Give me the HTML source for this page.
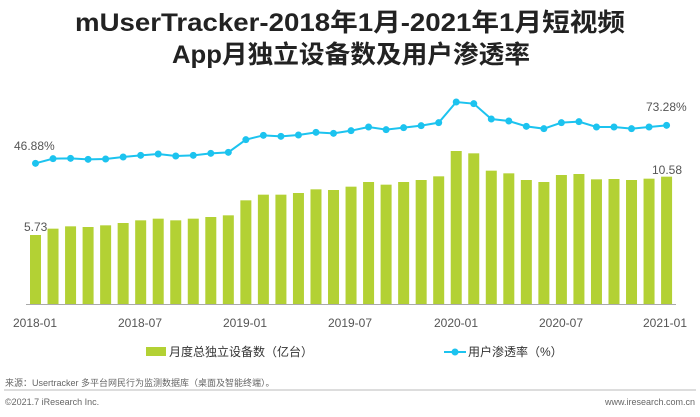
<!DOCTYPE html>
<html><head><meta charset="utf-8"><style>
body{margin:0;width:700px;height:412px;background:#fff;overflow:hidden;font-family:"Liberation Sans","Noto Sans CJK SC",sans-serif}
</style></head><body>
<svg width="700" height="412" xmlns="http://www.w3.org/2000/svg" font-family="Liberation Sans, Noto Sans CJK SC, sans-serif">
<text x="75" y="31" font-size="25" font-weight="bold" fill="#222" textLength="550" lengthAdjust="spacingAndGlyphs">mUserTracker-2018年1月-2021年1月短视频</text>
<text x="172" y="63" font-size="25" font-weight="bold" fill="#222" textLength="358" lengthAdjust="spacingAndGlyphs">App月独立设备数及用户渗透率</text>
<g id="bars" fill="#b3d134"></g>
<line x1="26" y1="304.5" x2="676" y2="304.5" stroke="#aaa" stroke-width="1"/>
<polyline id="ln" fill="none" stroke="#1cc3ef" stroke-width="2"/>
<g id="dots" fill="#1cc3ef"></g>
<g font-size="12" fill="#555">
<text x="14" y="150">46.88%</text>
<text x="24" y="231">5.73</text>
<text x="646" y="111">73.28%</text>
<text x="652" y="174">10.58</text>
</g>
<g font-size="12" fill="#555" text-anchor="middle">
<text x="35" y="327">2018-01</text><text x="140" y="327">2018-07</text><text x="245" y="327">2019-01</text><text x="350" y="327">2019-07</text><text x="456" y="327">2020-01</text><text x="561" y="327">2020-07</text><text x="665" y="327">2021-01</text>
</g>
<rect x="146" y="347" width="20" height="9" fill="#b3d134"/>
<text x="169" y="356" font-size="12" fill="#333">月度总独立设备数（亿台）</text>
<line x1="444" y1="352" x2="466" y2="352" stroke="#1cc3ef" stroke-width="2"/><circle cx="455" cy="352" r="3.5" fill="#1cc3ef"/>
<text x="468" y="356" font-size="12" fill="#333">用户渗透率（%）</text>
<text x="5" y="386" font-size="9" fill="#666">来源：Usertracker 多平台网民行为监测数据库（桌面及智能终端）。</text>
<line x1="4" y1="390" x2="696" y2="390" stroke="#bbb" stroke-width="1"/>
<text x="5" y="405" font-size="9" fill="#666">©2021.7 iResearch Inc.</text>
<text x="695" y="405" font-size="9" fill="#666" text-anchor="end">www.iresearch.com.cn</text>
</svg>
<script>
var b=[465,446,439,441,436,429,421,416,421,416,411,406,361,344,344,339,328,330,320,306,314,306,300,289,213,220,272,280,300,306,285,282,298,297,300,296,290];
var l=[250,236,235,238,237,231,226,222,228,226,220,217,179,166,169,165,157,160,152,141,149,143,137,128,66,71,117,123,139,146,128,125,141,141,146,141,136];
var ns="http://www.w3.org/2000/svg",g=document.getElementById('bars'),d=document.getElementById('dots'),pts=[];
for(var i=0;i<37;i++){var cx=35.5+17.53*i;var t=b[i]/3+80;var r=document.createElementNS(ns,'rect');r.setAttribute('x',cx-5.5);r.setAttribute('y',t);r.setAttribute('width',11);r.setAttribute('height',304-t);g.appendChild(r);
var y=l[i]/3+80;pts.push(cx+','+y);var c=document.createElementNS(ns,'circle');c.setAttribute('cx',cx);c.setAttribute('cy',y);c.setAttribute('r',3.5);d.appendChild(c);}
document.getElementById('ln').setAttribute('points',pts.join(' '));
</script>
</body></html>
